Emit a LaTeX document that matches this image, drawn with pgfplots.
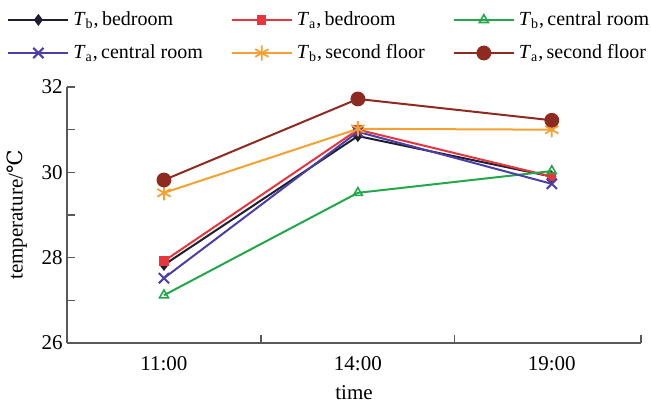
\documentclass[border=0pt]{standalone}
\usepackage{fontspec}
\setmainfont{Liberation Serif}
\newfontfamily\dejavu{DejaVu Serif}
\usepackage{pgfplots}
\pgfplotsset{compat=1.18}
\definecolor{cblack}{HTML}{1E1E2E}
\definecolor{cred}{HTML}{E8343C}
\definecolor{cgreen}{HTML}{22A84A}
\definecolor{cblue}{HTML}{4A3FA8}
\definecolor{corange}{HTML}{F5A030}
\definecolor{cbrown}{HTML}{8E2A20}
\newcommand{\fs}{\fontsize{10.5bp}{12.5bp}\selectfont}
\newcommand{\lfs}{\fontsize{10bp}{12bp}\selectfont}
\begin{document}
\begin{tikzpicture}
\fs
\begin{axis}[
  scale only axis, width=287bp, height=128bp,
  xmin=-0.5, xmax=2.46, ymin=26, ymax=32,
  axis x line*=bottom, axis y line*=left,
  axis line style={color=black!65, line width=0.6bp},
  xtick={0,1,2}, xticklabels={11:00,14:00,19:00},
  major x tick style={draw=none},
  minor xtick={0.5,1.5,2.46},
  ytick={26,28,30,32}, minor ytick={27,29,31},
  tick style={color=black!65, line width=0.6bp},
  major tick length=4bp, minor tick length=4bp,
  tick align=inside,
  /pgf/number format/assume math mode=true,
  ticklabel style={font=\fs},
  xticklabel style={yshift=-3bp},
  yticklabel style={xshift=1.5bp},
  xlabel={time}, ylabel={temperature/{\dejavu ℃}},
  label style={font=\fs},
  xlabel style={yshift=-0.5bp},
  ylabel style={yshift=0bp},
  every axis plot/.append style={line width=1bp},
  legend columns=3,
  legend cell align=left,
  legend style={draw=none, fill=none, inner sep=0pt, at={(rel axis cs:0,1)}, anchor=north west,
    xshift=-30bp, yshift=40bp,
    font=\lfs,
    /tikz/every even column/.append style={column sep=12bp},
    row sep=4bp},
  legend image code/.code={\draw[mark repeat=2,mark phase=2] plot coordinates {(0bp,0bp)(15bp,0bp)(30bp,0bp)};},
]
\addplot[cblack, mark=diamond*, mark size=2.2bp] coordinates {(0,27.83)(1,30.85)(2,29.9)};
\addlegendentry{\textit{T}\textsubscript{b},\,bedroom}
\addplot[cred, mark=square*, mark size=1.8bp] coordinates {(0,27.92)(1,31.0)(2,29.9)};
\addlegendentry{\textit{T}\textsubscript{a},\,bedroom}
\addplot[cgreen, mark=triangle, mark size=2.6bp, mark options={line width=0.8bp}] coordinates {(0,27.12)(1,29.52)(2,30.03)};
\addlegendentry{\textit{T}\textsubscript{b},\,central room}
\addplot[cblue, mark=x, mark size=3.6bp, mark options={line width=1bp}] coordinates {(0,27.52)(1,30.95)(2,29.73)};
\addlegendentry{\textit{T}\textsubscript{a},\,central room}
\addplot[corange, mark=asterisk, mark size=3.8bp, mark options={line width=0.9bp}] coordinates {(0,29.52)(1,31.02)(2,31.0)};
\addlegendentry{\textit{T}\textsubscript{b},\,second floor}
\addplot[cbrown, mark=*, mark size=3.2bp] coordinates {(0,29.82)(1,31.72)(2,31.22)};
\addlegendentry{\textit{T}\textsubscript{a},\,second floor}
\coordinate (bl) at (rel axis cs:0,0);
\coordinate (tr) at (rel axis cs:1,1);
\end{axis}
\pgfresetboundingbox
\path ([shift={(-33.5bp,-31bp)}]bl) rectangle ([shift={(5bp,43.5bp)}]tr);
\end{tikzpicture}
\end{document}
